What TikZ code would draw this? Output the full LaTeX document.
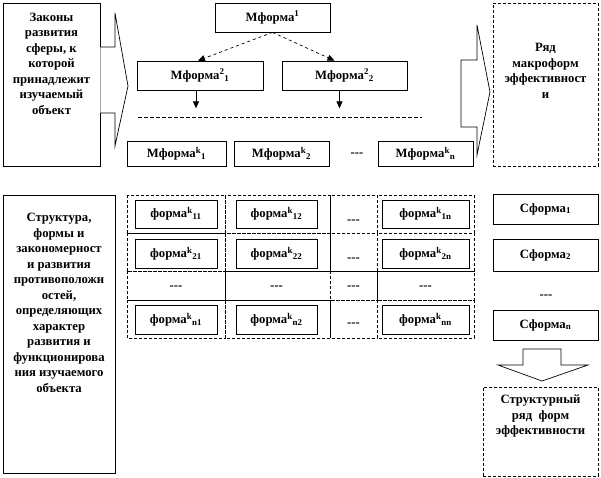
\documentclass[tikz,border=0pt]{standalone}
\usepackage{fontspec}
\setmainfont{Liberation Serif}
\usetikzlibrary{arrows.meta,calc}

\begin{document}
\begin{tikzpicture}[x=1pt,y=-1pt,
  font=\fontsize{12.7}{15.5}\selectfont\bfseries,
  box/.style={draw, line width=0.7pt, fill=white, inner sep=0pt, align=center},
  dbox/.style={box, dash pattern=on 3pt off 2pt},
  cell/.style={draw, line width=0.6pt, dash pattern=on 3pt off 2pt},
  txt/.style={align=center, inner sep=0pt},
  arr/.style={-{Triangle[length=7pt,width=6pt]}, line width=0.7pt},
  blk/.style={draw, line width=0.7pt, fill=white}]
\useasboundingbox (0,0) rectangle (601,477);
% left: laws of the sphere
\node[box, minimum width=97pt, minimum height=163pt] (zak) at (51.5,84.5) {};
\node[txt] (zaktext) at (51.5,63.5) {Законы\\развития\\сферы, к\\которой\\принадлежит\\изучаемый\\объект};
\draw[blk] (zak.east |- 0,47) -- (115,47) -- (115,13) -- (128,86) -- (115,146) -- (115,113) -- (zak.east |- 0,113);
% macroforms tree
\node[box, minimum width=115pt, minimum height=29pt] (m1) at (272.5,17.5) {Мформа\textsuperscript{1}};
\node[box, minimum width=126pt, minimum height=29pt] (m21) at (200,75.5) {Мформа\textsuperscript{2}\textsubscript{1}};
\node[box, minimum width=125pt, minimum height=29pt] (m22) at (344.5,75.5) {Мформа\textsuperscript{2}\textsubscript{2}};
\draw[arr, dashed] (m1.south) -- ($(m21.north)+(-2,0)$);
\draw[arr, dashed] (m1.south) -- ($(m22.north)+(-10,0)$);
\coordinate (d1) at ($(m21.south)+(-4,18)$);
\coordinate (d2) at ($(m22.south)+(-5,18)$);
\draw[arr] ($(m21.south)+(-4,0)$) -- (d1);
\draw[arr] ($(m22.south)+(-5,0)$) -- (d2);
\coordinate (l1) at (138,117);
\coordinate (l2) at (422,117);
\draw[line width=0.6pt, dash pattern=on 4pt off 2pt] (l1) -- (l2);
\node[box, minimum width=99pt, minimum height=25pt] (mk1) at (176.5,153.5) {Мформа\textsuperscript{k}\textsubscript{1}};
\node[box, minimum width=95pt, minimum height=25pt] (mk2) at (281.5,153.5) {Мформа\textsuperscript{k}\textsubscript{2}};
\node[txt] (mkd) at (357,155) {-\kern0pt-\kern0pt-};
\node[box, minimum width=95pt, minimum height=25pt] (mkn) at (425.5,153.5) {Мформа\textsuperscript{k}\textsubscript{n}};
% right: row of macroforms
\draw[blk] (461,60) -- (477,60) -- (477,25) -- (490,92) -- (477,155) -- (477,127) -- (461,127) -- cycle;
\node[dbox, minimum width=105pt, minimum height=163pt] (ryad) at (545.5,84.5) {};
\node[txt] (ryadtext) at (545.5,71) {Ряд\\макроформ\\эффективност\\и};
% left: structure
\node[box, minimum width=112pt, minimum height=278pt] (str) at (59,334) {};
\node[txt] (strtext) at (59,303) {Структура,\\формы и\\закономерност\\и развития\\противоположн\\остей,\\определяющих\\характер\\развития и\\функционирова\\ния изучаемого\\объекта};
% grid of forms
\foreach \xa/\xb in {127/225,225/330,330/377,377/474}
  \foreach \ya/\yb in {195/233,233/271,271/300,300/338}
    \draw[cell] (\xa,\ya) rectangle (\xb,\yb);
\node[box, minimum width=82pt, minimum height=28pt] (f11) at (176,214) {форма\textsuperscript{k}\textsubscript{11}};
\node[box, minimum width=81pt, minimum height=28pt] (f12) at (276.5,214) {форма\textsuperscript{k}\textsubscript{12}};
\node[txt] (f1d) at (353.5,222) {-\kern0pt-\kern0pt-};
\node[box, minimum width=87pt, minimum height=28pt] (f1n) at (425.5,214) {форма\textsuperscript{k}\textsubscript{1n}};
\node[box, minimum width=82pt, minimum height=29pt] (f21) at (176,253.5) {форма\textsuperscript{k}\textsubscript{21}};
\node[box, minimum width=81pt, minimum height=29pt] (f22) at (276.5,253.5) {форма\textsuperscript{k}\textsubscript{22}};
\node[txt] (f2d) at (353.5,260) {-\kern0pt-\kern0pt-};
\node[box, minimum width=87pt, minimum height=29pt] (f2n) at (425.5,253.5) {форма\textsuperscript{k}\textsubscript{2n}};
\node[txt] (fd1) at (176,288) {-\kern0pt-\kern0pt-};
\node[txt] (fd2) at (276.5,288) {-\kern0pt-\kern0pt-};
\node[txt] (fdd) at (353.5,288) {-\kern0pt-\kern0pt-};
\node[txt] (fdn) at (425.5,288) {-\kern0pt-\kern0pt-};
\node[box, minimum width=82pt, minimum height=29pt] (fn1) at (176,319.5) {форма\textsuperscript{k}\textsubscript{n1}};
\node[box, minimum width=81pt, minimum height=29pt] (fn2) at (276.5,319.5) {форма\textsuperscript{k}\textsubscript{n2}};
\node[txt] (fnd) at (353.5,325) {-\kern0pt-\kern0pt-};
\node[box, minimum width=87pt, minimum height=29pt] (fnn) at (425.5,319.5) {форма\textsuperscript{k}\textsubscript{nn}};
% right: structural forms
\node[box, minimum width=105pt, minimum height=30pt] (s1) at (545.5,209) {Сформа\textsubscript{1}};
\node[box, minimum width=105pt, minimum height=32pt] (s2) at (545.5,255) {Сформа\textsubscript{2}};
\node[txt] (sd) at (546,297) {-\kern0pt-\kern0pt-};
\node[box, minimum width=105pt, minimum height=30pt] (sn) at (545.5,325) {Сформа\textsubscript{n}};
\draw[blk] (523,349) -- (561,349) -- (561,365) -- (588,365) -- (542,381) -- (498,365) -- (523,365) -- cycle;
\node[dbox, minimum width=115pt, minimum height=89pt] (sr) at (540.5,431.5) {};
\node[txt] (srtext) at (540.5,416) {Структурный\\ряд\ \ форм\\эффективности};
\end{tikzpicture}
\end{document}
